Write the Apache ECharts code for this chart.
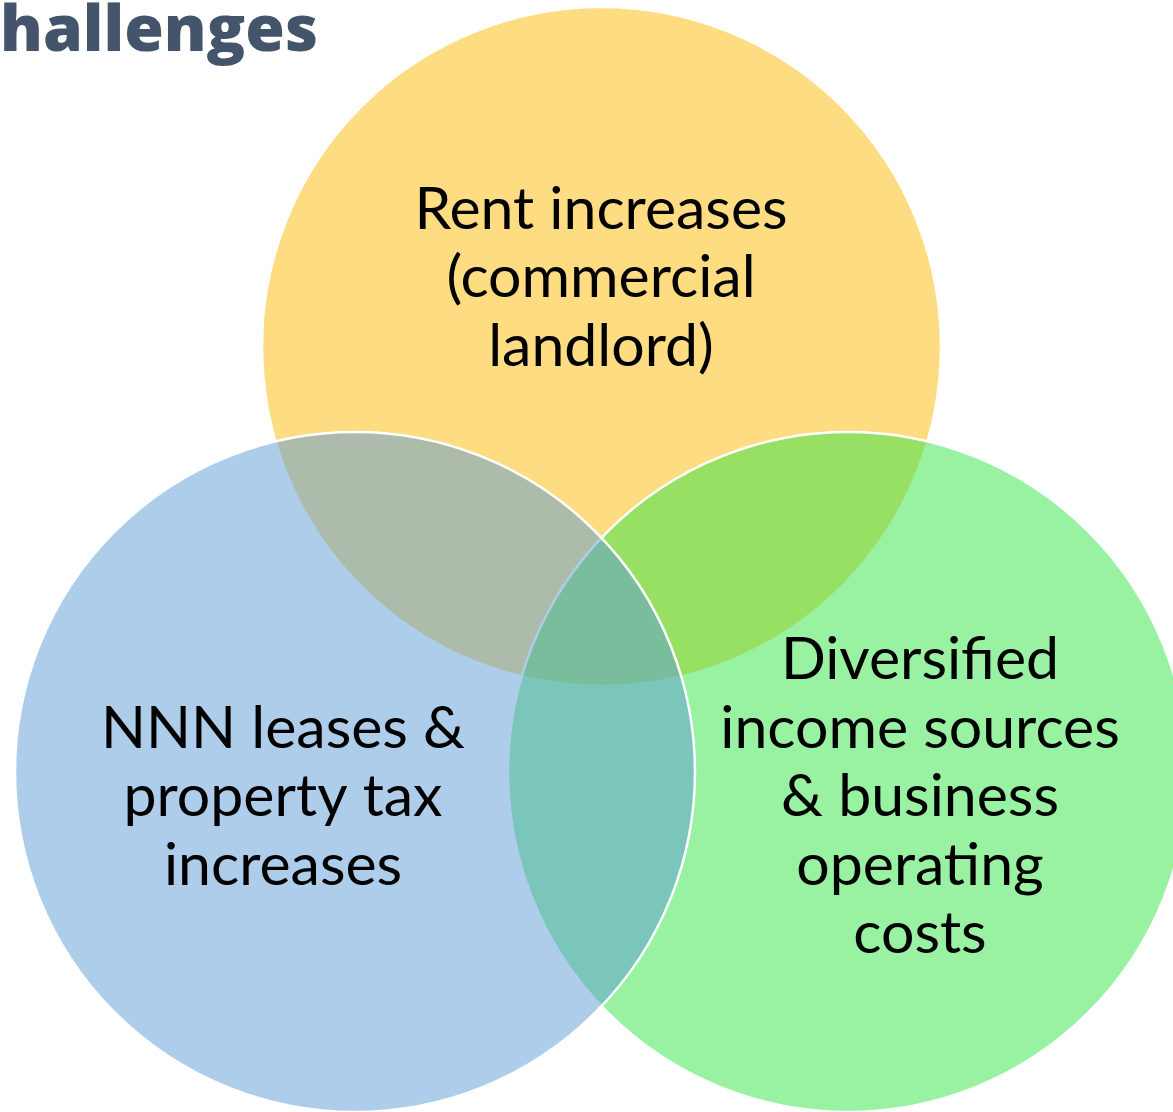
<!DOCTYPE html>
<html>
<head>
<meta charset="utf-8">
<script src="https://cdn.jsdelivr.net/npm/echarts@6/dist/echarts.min.js"></script>
<style>
  html, body { margin: 0; padding: 0; background: #fff; }
  #venn { width: 1173px; height: 1112px; }
</style>
</head>
<body>
<div id="venn"></div>
<script>
// circles: name, centre x, centre y, radius (in plot units = px of the slide)
const setNames = ['Rent increases (commercial landlord)', 'Diversified income sources & business operating costs', 'NNN leases & property tax increases'];
const centerX = [601.5, 848, 355];
const centerY = [346.5, 772, 772];
const radius = [339.5, 340, 340];
const fillColors = ['rgba(253,186,5,0.5)', 'rgba(49,229,69,0.5)', 'rgba(93,155,213,0.5)'];

// label text and anchor (centre of text block)
const labelLines = [
  'Rent increases\n(commercial\nlandlord)',
  'Diversified\nincome sources\n& business\noperating\ncosts',
  'NNN leases &\nproperty tax\nincreases'
];
const labelX = [601, 920, 283];
const labelY = [278, 797, 797];

const chart = echarts.init(document.getElementById('venn'));

const circleData = setNames.map((n, i) => [centerX[i], centerY[i], radius[i], i]);
const labelData = setNames.map((n, i) => [labelX[i], labelY[i], i]);

const option = {
  animation: false,
  grid: { left: 0, right: 0, top: 0, bottom: 0 },
  xAxis: { type: 'value', min: 0, max: 1173, show: false },
  yAxis: { type: 'value', min: 0, max: 1112, inverse: true, show: false },
  graphic: [{
    type: 'text',
    left: 0,
    top: 1,
    style: {
      text: 'hallenges',
      fill: '#44546A',
      font: '800 64px "Open Sans"'
    }
  }],
  series: [
    {
      type: 'custom',
      clip: false,
      data: circleData,
      renderItem: function (params, api) {
        const c = api.coord([api.value(0), api.value(1)]);
        const r = api.size([api.value(2), 0])[0];
        return {
          type: 'circle',
          shape: { cx: c[0], cy: c[1], r: r },
          style: {
            fill: fillColors[api.value(3)],
            stroke: '#ffffff',
            lineWidth: 2.5
          }
        };
      }
    },
    {
      type: 'custom',
      z: 5,
      data: labelData,
      renderItem: function (params, api) {
        const p = api.coord([api.value(0), api.value(1)]);
        return {
          type: 'text',
          x: p[0],
          y: p[1],
          style: {
            text: labelLines[api.value(2)],
            fill: '#000000',
            font: '400 59px Lato',
            lineHeight: 68.5,
            align: 'center',
            verticalAlign: 'middle'
          }
        };
      }
    }
  ]
};

chart.setOption(option);
</script>
</body>
</html>
